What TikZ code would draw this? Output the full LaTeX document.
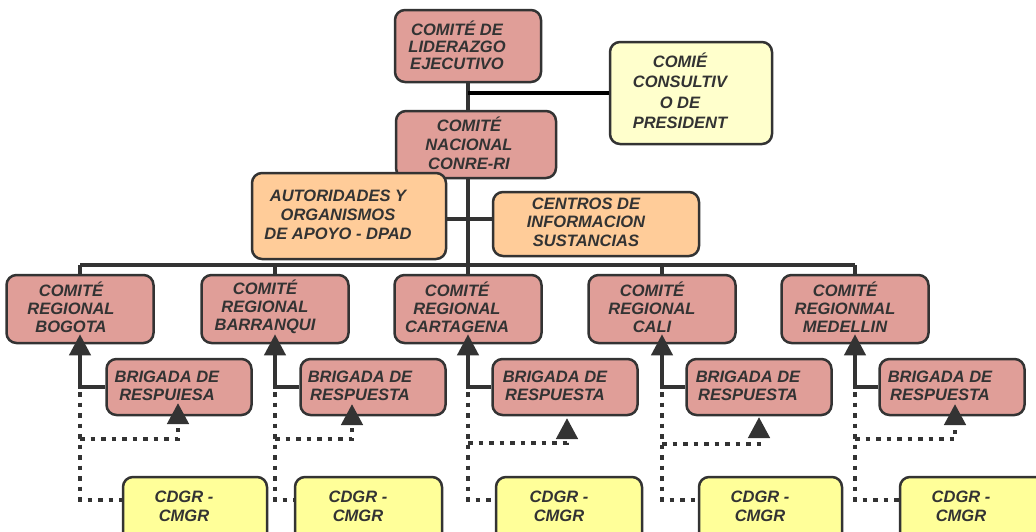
\documentclass[tikz,border=0pt]{standalone}
\usepackage{fontspec}
\setmainfont{Liberation Sans}
\usetikzlibrary{arrows.meta}
\definecolor{ink}{HTML}{333333}
\definecolor{pinkbox}{HTML}{E09E98}
\definecolor{orangebox}{HTML}{FFCC99}
\definecolor{paleyellow}{HTML}{FFFFCC}
\definecolor{yellowbox}{HTML}{FFFF99}
\tikzset{
  box/.style={draw=ink, line width=2.5pt, rounded corners=10pt, inner sep=0pt},
  pinkb/.style={box, fill=pinkbox},
  orangeb/.style={box, fill=orangebox},
  paleb/.style={box, fill=paleyellow},
  yellowb/.style={box, fill=yellowbox},
  txt/.style={text=ink, align=center, inner sep=0pt, font=\bfseries\itshape\fontsize{16.5}{#1}\selectfont},
  txt/.default=18,
  conn/.style={draw=ink, line width=4pt},
  arr/.style={-{Triangle[width=21pt,length=21pt]}},
  dots/.style={draw=ink, line width=4.5pt, dash pattern=on 4.5pt off 6pt}
}
\begin{document}
\begin{tikzpicture}[x=1pt,y=-1pt]
\useasboundingbox (0,0) rectangle (1036,531);
% top boxes
\node[pinkb, minimum width=146pt, minimum height=72pt] (lid) at (468,46) {};
\node[paleb, minimum width=162pt, minimum height=102pt] (cons) at (691,93) {};
\node[pinkb, minimum width=160pt, minimum height=67pt] (nac) at (476,144.5) {};
\node[orangeb, minimum width=194pt, minimum height=86pt] (aut) at (349,216) {};
\node[orangeb, minimum width=206pt, minimum height=64pt] (cen) at (596,224) {};
% connectors at top
\coordinate (busc) at (468,265);
\draw[conn] (lid.south) -- (lid.south |- nac.north);
\draw[conn] (nac.south -| lid.south) -- (busc);
\draw[black, line width=4pt] (lid.south |- cons.west) -- (cons.west);
\draw[conn] (aut.east |- 0,219) -- (cen.west |- 0,219);
% texts top
\node[txt=17] (tlid) at (457,45) {COMITÉ DE\\LIDERAZGO\\EJECUTIVO};
\node[txt=20.5] (tcons) at (680,91) {COMIÉ\\CONSULTIV\\O DE\\PRESIDENT};
\node[txt=19] (tnac) at (469,143) {COMITÉ\\NACIONAL\\CONRE-RI};
\node[txt=19] (taut) at (338,215) {AUTORIDADES Y\\ORGANISMOS\\DE APOYO - DPAD};
\node[txt=18.5] (tcen) at (586,222) {CENTROS DE\\INFORMACION\\SUSTANCIAS};
% regional columns
\foreach \n/\bx/\rt/\bt/\bxc/\ct/\cxc/\cw/\ax/\tip/\hy/\rl/\bl in {
  B/80/71/167/179/184/195/144/178/403/439/BOGOTA/RESPUIESA,
  Ba/275/265/360/373/358/368.5/147/352/404/439/BARRANQUI/RESPUESTA,
  Ct/468/457/555/565/559/569/146/567/418/443/CARTAGENA/RESPUESTA,
  Ca/662/652/748/759/760/770.5/143/759/417/444/CALI/RESPUESTA,
  M/855/845/940/952/961/975/150/955/404/439/MEDELLIN/RESPUESTA}{
  \node[pinkb, minimum width=147pt, minimum height=68pt] (reg\n) at (\bx,309) {};
  \node[pinkb, minimum width=145pt, minimum height=56pt] (brig\n) at (\bxc,387) {};
  \node[yellowb, minimum width=\cw pt, minimum height=68pt] (cd\n) at (\cxc,511) {};
  \draw[conn] (reg\n.north) -- (\bx,265);
  \draw[conn, arr] (brig\n.west) -| ([yshift=10pt]reg\n.south);
  \coordinate (d\n) at (\bx,392);
  \draw[dots] (d\n) -- (\bx,500) -- (cd\n.west |- 0,500);
  \draw[dots, arr] (\bx,\hy) -| (\ax,\tip);
  \node[txt=19] (tcd\n) at (\ct,506) {CDGR -\\CMGR};
}
\draw[conn] (80,265) -- (855,265);
% regional texts
\node[txt] (tregB) at (71,307) {COMITÉ\\REGIONAL\\BOGOTA};
\node[txt] (tregBa) at (265,307) {COMITÉ\\REGIONAL\\BARRANQUI};
\node[txt] (tregCt) at (457,307) {COMITÉ\\REGIONAL\\CARTAGENA};
\node[txt] (tregCa) at (652,307) {COMITÉ\\REGIONAL\\CALI};
\node[txt] (tregM) at (845,307) {COMITÉ\\REGIONMAL\\MEDELLIN};
\node[txt] (tbrigB) at (167,386) {BRIGADA DE\\RESPUIESA};
\node[txt] (tbrigBa) at (360,386) {BRIGADA DE\\RESPUESTA};
\node[txt] (tbrigCt) at (555,386) {BRIGADA DE\\RESPUESTA};
\node[txt] (tbrigCa) at (748,386) {BRIGADA DE\\RESPUESTA};
\node[txt] (tbrigM) at (940,386) {BRIGADA DE\\RESPUESTA};
\end{tikzpicture}
\end{document}
